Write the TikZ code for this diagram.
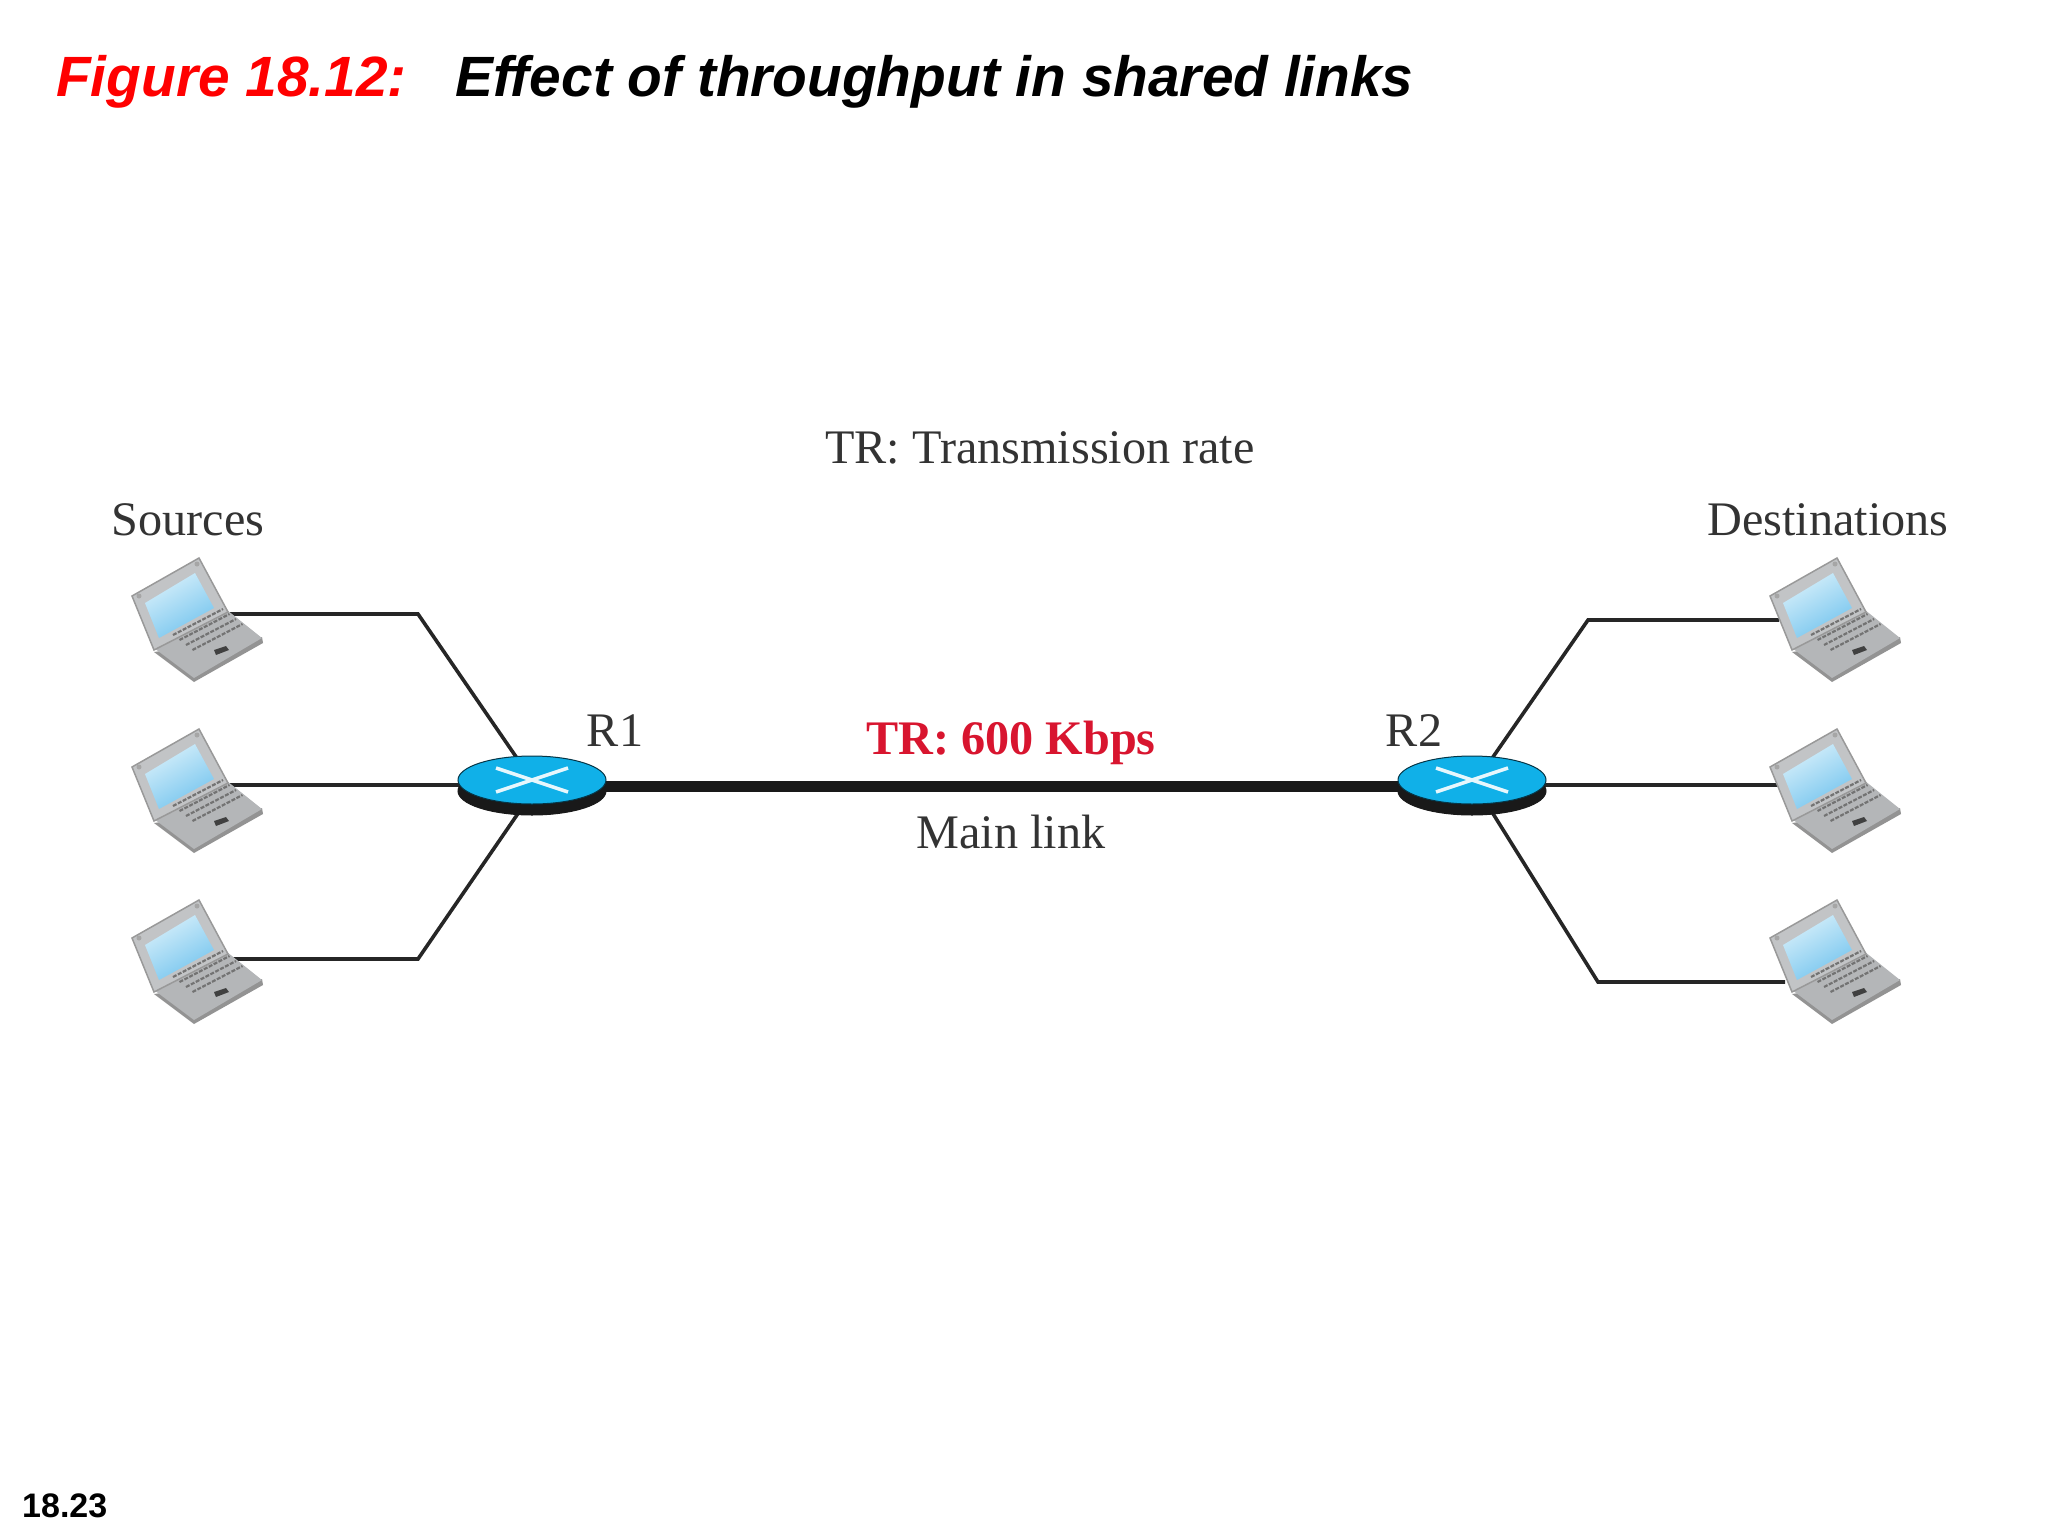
\documentclass[tikz,border=0pt]{standalone}
\usepackage{fontspec}
\setmainfont{Liberation Serif}
\newfontfamily\arialfont{Liberation Sans}
\usetikzlibrary{shapes.geometric,shadows,backgrounds,calc}
\definecolor{routerblue}{HTML}{10B0E8}
\definecolor{ratered}{HTML}{D8152F}
\definecolor{lidgray}{HTML}{C2C4C6}
\definecolor{basegray}{HTML}{B4B6B8}
\definecolor{scrnlight}{HTML}{D6EFFA}
\definecolor{scrndark}{HTML}{74C4EE}
\tikzset{
  lbl/.style    = { inner sep=0pt, text=black!80, font=\fontsize{48.2}{52}\selectfont },
  ratelbl/.style = { inner sep=0pt, text=ratered, font=\fontsize{48.2}{52}\selectfont\bfseries },
  ttl/.style    = { inner sep=0pt, anchor=base west, font=\arialfont\fontsize{56.8}{60}\selectfont\bfseries\itshape },
  pagenum/.style = { inner sep=0pt, anchor=base west, font=\arialfont\fontsize{34}{36}\selectfont\bfseries },
  lnk/.style    = { draw=black!85, line width=3.6pt },
  mainlnk/.style = { draw=black!90, line width=11pt },
  router/.style = { ellipse, inner sep=0pt, minimum width=148pt, minimum height=48pt, fill=routerblue, draw=black!70!routerblue, line width=1pt,
    copy shadow={shadow xshift=0pt, shadow yshift=-11pt, fill=black!90, draw=black!90},
    path picture={
      \draw[white!90!routerblue, line width=3.6pt] ($(path picture bounding box.center)+(-36pt,-12pt)$) -- ($(path picture bounding box.center)+(36pt,12pt)$);
      \draw[white!90!routerblue, line width=3.6pt] ($(path picture bounding box.center)+(-36pt,12pt)$) -- ($(path picture bounding box.center)+(36pt,-12pt)$);
    } },
  laptop/.pic = {
    % base and lid
    \fill[gray!85] (-43,34) -- (-3,64) -- (66,25) -- (65,19) -- cycle;
    \fill[basegray] (-43,30) -- (30,-8) -- (65,20) -- (-3,60) -- cycle;
    \fill[lidgray, draw=gray!80, line width=1.5pt] (-65,-22) -- (2,-60) -- (31,-6) -- (-43,32) -- cycle;
    \shade[left color=scrnlight, right color=scrndark, shading angle=30] (-52,-15) -- (-2,-45) -- (17,-10) -- (-38,20) -- cycle;
    \fill[gray!70] (-58,-22) circle (2.5);
    \fill[gray!70] (0,-54) circle (2.5);
    % keyboard rows
    \foreach \k in {0,1,2,3}
      \draw[black!55, line width=2.2pt, dash pattern=on 4pt off 1.5pt] ($(-24,17)+(\k*6.5,\k*5)$) -- ($(26,-9)+(\k*6.5,\k*5)$);
    \fill[black!75] (17,32) -- (29,28) -- (32,32) -- (19,37) -- cycle;
    \coordinate (portr) at (31,-4);
    \coordinate (portl) at (-56,-4);
    \coordinate (portu) at (-56,2);
    \coordinate (portd) at (-50,22);
  }
}
\begin{document}
\begin{tikzpicture}[x=1pt,y=-1pt]
  \useasboundingbox (0,0) rectangle (2048,1536);
  % title
  \node[ttl, text=red] (figno) at (56,97) {Figure 18.12:};
  \node[ttl] (figname) at (455,97) {Effect of throughput in shared links};
  \node[pagenum] (pageno) at (22,1517) {18.23};
  % labels
  \node[lbl] (trnote) at (1040,448) {TR: Transmission rate};
  \node[lbl] (srclbl) at (188,520) {Sources};
  \node[lbl] (dstlbl) at (1828,520) {Destinations};
  \node[lbl] (r1lbl) at (615,731) {R1};
  \node[lbl] (r2lbl) at (1414,731) {R2};
  \node[ratelbl] (ratelbl) at (1011,743) {TR: 600 Kbps};
  \node[lbl] (mainlbl) at (1011,832) {Main link};
  % routers
  \node[router] (r1) at (532,780) {};
  \node[router] (r2) at (1472,780) {};
  % hosts
  \pic (s1) at (197,618) {laptop};
  \pic (s2) at (197,789) {laptop};
  \pic (s3) at (197,960) {laptop};
  \pic (d1) at (1835,618) {laptop};
  \pic (d2) at (1835,789) {laptop};
  \pic (d3) at (1835,960) {laptop};
  % bends
  \coordinate (b1) at (418,614);
  \coordinate (b3) at (418,959);
  \coordinate (b4) at (1588,620);
  \coordinate (b6) at (1598,982);
  \begin{scope}[on background layer]
    \draw[mainlnk] ([yshift=-6pt]r1.center) -- ([yshift=-6pt]r2.center);
    \draw[lnk] (s1portr) -- (b1) -- (r1.center);
    \draw[lnk] (s2portr) -- (s2portr -| r1.center);
    \draw[lnk] (s3portr |- b3) -- (b3) -- ([xshift=9pt]r1.center);
    \draw[lnk] (d1portu) -- (b4) -- ([xshift=5pt]r2.center);
    \draw[lnk] (d2portl) -- (d2portl -| r2.center);
    \draw[lnk] (d3portd) -- (b6) -- (r2.center);
  \end{scope}
\end{tikzpicture}
\end{document}
